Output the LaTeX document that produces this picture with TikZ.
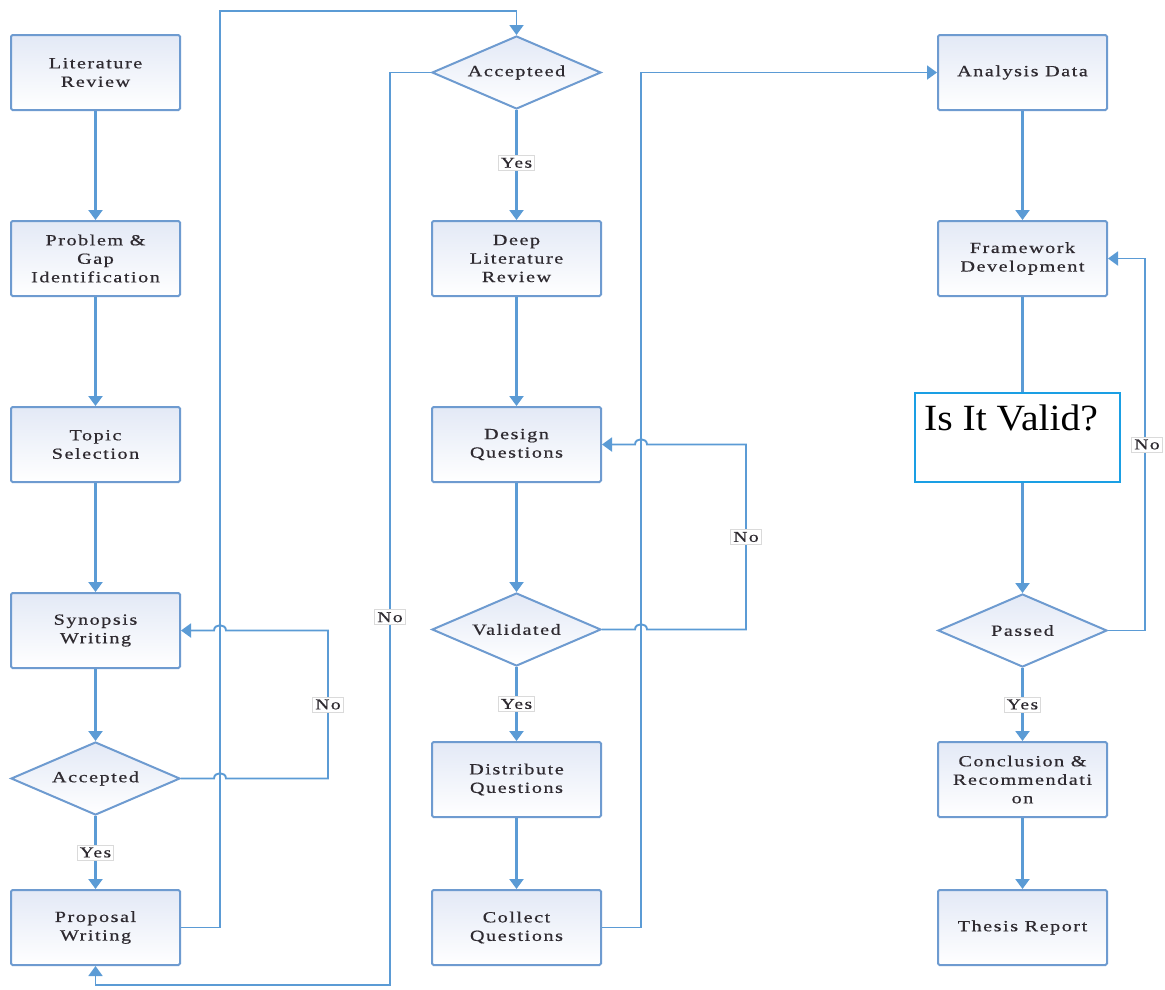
\documentclass[tikz,border=0pt]{standalone}
\usepackage{fontspec}
\setmainfont{Liberation Serif}
\newfontfamily\spacedserif[LetterSpace=10, FakeStretch=1.3, FakeBold=0.6]{Liberation Serif}
\newfontfamily\wideserif[FakeStretch=1.07]{Liberation Serif}
\usetikzlibrary{arrows.meta,shapes.geometric}

\definecolor{flowline}{HTML}{5B9BD5}
\definecolor{boxedge}{HTML}{6E9BD0}
\definecolor{boxtint}{HTML}{E3E9F6}
\definecolor{validedge}{HTML}{1A9FE4}
\definecolor{inktext}{HTML}{2E2A30}
\definecolor{tagedge}{HTML}{DADADA}

\tikzset{
  stepbox/.style={draw=boxedge, line width=2pt, rounded corners=1.5pt,
    top color=boxtint, bottom color=white,
    minimum width=169pt, minimum height=75pt, inner sep=2pt,
    align=center, text=inktext,
    font=\spacedserif\fontsize{15.5}{18.5}\selectfont},
  decision/.style={diamond, aspect=2.32, draw=boxedge, line width=2pt,
    top color=boxtint, bottom color=white,
    minimum width=169pt, minimum height=73pt, inner sep=0pt,
    text=inktext, font=\spacedserif\fontsize{15.5}{18.5}\selectfont},
  validbox/.style={draw=validedge, line width=1.8pt, fill=white,
    minimum width=205pt, minimum height=89pt, inner sep=0pt},
  tag/.style={draw=tagedge, line width=0.8pt, fill=white, text=inktext,
    inner xsep=2.5pt, inner ysep=2.5pt,
    font=\spacedserif\fontsize{15}{17}\selectfont},
  flow/.style={draw=flowline, line width=2.2pt},
  loopline/.style={draw=flowline, line width=1.9pt, -{Triangle[width=14pt,length=10pt]}},
  flowarrow/.style={flow, -{Triangle[width=14pt,length=10pt]}},
}

\begin{document}
\begin{tikzpicture}[x=1pt, y=-1pt]
  \useasboundingbox (0,0) rectangle (1165,989);

  % first column
  \node[stepbox] (lit)   at (95.5,72.5)  {Literature\\Review};
  \node[stepbox] (gap)   at (95.5,258.5) {Problem \&\\Gap\\Identification};
  \node[stepbox] (topic) at (95.5,444.5) {Topic\\Selection};
  \node[stepbox] (syn)   at (95.5,630.5) {Synopsis\\Writing};
  \node[decision] (acc)  at (95.5,778.5) {Accepted};
  \node[stepbox] (prop)  at (95.5,927.5) {Proposal\\Writing};

  % second column
  \node[decision] (acct)  at (516.5,72.5)  {Accepteed};
  \node[stepbox] (deep)   at (516.5,258.5) {Deep\\Literature\\Review};
  \node[stepbox] (design) at (516.5,444.5) {Design\\Questions};
  \node[decision] (valid) at (516.5,629.5) {Validated};
  \node[stepbox] (dist)   at (516.5,779.5) {Distribute\\Questions};
  \node[stepbox] (coll)   at (516.5,927.5) {Collect\\Questions};

  % third column
  \node[stepbox] (ana)    at (1022.5,72.5)  {Analysis Data};
  \node[stepbox] (frame)  at (1022.5,258.5) {Framework\\Development};
  \node[validbox] (check) at (1017.5,437.5) {};
  \node[anchor=base west, inner sep=0pt, text=black,
        font=\wideserif\fontsize{37}{40}\selectfont] (checktext) at (924,430) {Is It Valid?};
  \node[decision] (pass)  at (1022.5,630.5) {Passed};
  \node[stepbox] (concl)  at (1022.5,779.5) {Conclusion \&\\Recommendati\\on};
  \node[stepbox] (thesis) at (1022.5,927.5) {Thesis Report};

  % straight flow, first column
  \draw[flowarrow] (lit) -- (gap);
  \draw[flowarrow] (gap) -- (topic);
  \draw[flowarrow] (topic) -- (syn);
  \draw[flowarrow] (syn) -- (acc);
  \draw[flowarrow] (acc) -- node[tag]{Yes} (prop);

  % straight flow, second column
  \draw[flowarrow] (acct) -- node[tag, pos=0.48]{Yes} (deep);
  \draw[flowarrow] (deep) -- (design);
  \draw[flowarrow] (design) -- (valid);
  \draw[flowarrow] (valid) -- node[tag]{Yes} (dist);
  \draw[flowarrow] (dist) -- (coll);

  % straight flow, third column
  \draw[flowarrow] (ana) -- (frame);
  \draw[flow] (frame.south) -- (frame.south |- check.north);
  \draw[flowarrow] (frame.south |- check.south) -- (pass.north);
  \draw[flowarrow] (pass) -- node[tag]{Yes} (concl);
  \draw[flowarrow] (concl) -- (thesis);

  % rejected synopsis loops back, hopping over the x=220 line
  \draw[loopline] (acc.east) -- (214,778.5)
      .. controls (214,771.5) and (226,771.5) .. (226,778.5)
      -- (328,778.5) -- node[tag]{No} (328,630.5) -- (226,630.5)
      .. controls (226,623.5) and (214,623.5) .. (214,630.5) -- (syn.east);

  % proposal goes up and over to the second decision
  \draw[loopline] (prop.east) -| (220,11) -| (acct.north);

  % rejected proposal returns under the page
  \draw[loopline] (acct.west) -- (390,72.5)
      -- node[tag, pos=0.597]{No} (390,985) -| (prop.south);

  % failed validation loops back, hopping over the x=641 line
  \draw[loopline] (valid.east) -- (635,629.5)
      .. controls (635,622.5) and (647,622.5) .. (647,629.5)
      -- (746,629.5) -- node[tag]{No} (746,444.5) -- (647,444.5)
      .. controls (647,437.5) and (635,437.5) .. (635,444.5) -- (design.east);

  % collected questions feed the analysis
  \draw[loopline] (coll.east) -| (641,72.5) -- (ana.west);

  % failed check returns to the framework
  \draw[loopline] (pass.east) -- (1145,630.5)
      -- node[tag, xshift=2pt]{No} (1145,258.5) -- (frame.east);
\end{tikzpicture}
\end{document}
